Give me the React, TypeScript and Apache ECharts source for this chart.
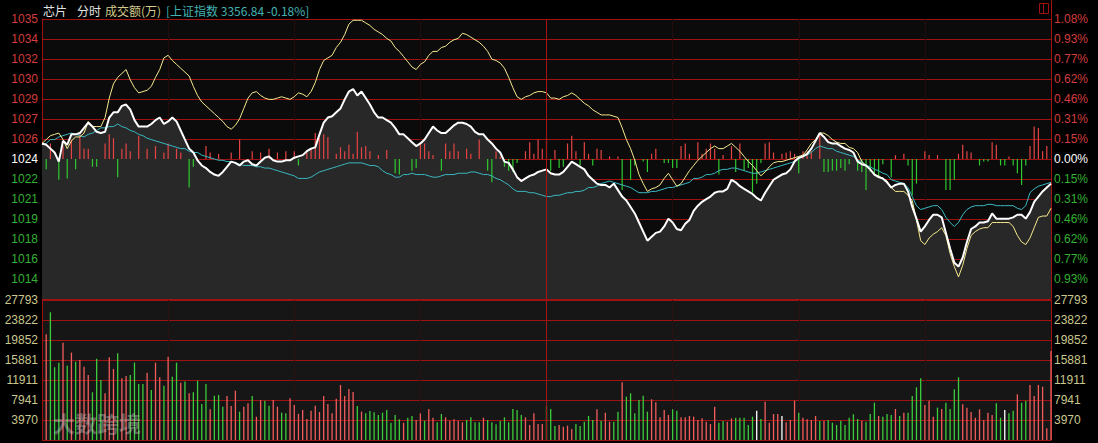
import React, { useEffect, useRef } from 'react';
import * as echarts from 'echarts';

// ---- categories: one point per trading minute ----
const times: string[] = [];
for (let m = 570; m <= 690; m++) times.push(`${String(Math.floor(m / 60)).padStart(2, '0')}:${String(m % 60).padStart(2, '0')}`);
for (let m = 781; m <= 900; m++) times.push(`${String(Math.floor(m / 60)).padStart(2, '0')}:${String(m % 60).padStart(2, '0')}`);

// ---- tick labels (bottom -> top) ----
const priceLeft = ['', '1014', '1016', '1018', '1019', '1021', '1022', '1024', '1026', '1027', '1029', '1030', '1032', '1034', '1035'];
const priceRight = ['', '0.93%', '0.77%', '0.62%', '0.46%', '0.31%', '0.15%', '0.00%', '0.15%', '0.31%', '0.46%', '0.62%', '0.77%', '0.93%', '1.08%'];
const volLabels = ['', '3970', '7941', '11911', '15881', '19852', '23822', '27793'];

// ---- series values (% change vs previous close) ----
const whiteLine = [
  0.12, 0.11, 0.08, 0.05, -0.02, 0.14, 0.11, 0.19, 0.19, 0.20,
  0.24, 0.28, 0.25, 0.21, 0.20, 0.21, 0.32, 0.36, 0.36, 0.41,
  0.42, 0.38, 0.30, 0.25, 0.25, 0.25, 0.27, 0.30, 0.32, 0.27,
  0.29, 0.32, 0.29, 0.22, 0.15, 0.08, 0.05, -0.01, -0.05, -0.07,
  -0.10, -0.12, -0.13, -0.10, -0.06, -0.02, -0.03, -0.05, -0.02, -0.01,
  -0.04, -0.05, -0.02, 0.01, 0.02, -0.01, -0.02, -0.02, -0.01, -0.01,
  0.01, 0.02, 0.03, 0.06, 0.08, 0.09, 0.19, 0.28, 0.32, 0.33,
  0.36, 0.39, 0.46, 0.52, 0.54, 0.49, 0.52, 0.47, 0.42, 0.36,
  0.32, 0.32, 0.30, 0.28, 0.24, 0.19, 0.19, 0.16, 0.13, 0.10,
  0.12, 0.15, 0.20, 0.25, 0.22, 0.20, 0.20, 0.23, 0.26, 0.28,
  0.28, 0.27, 0.25, 0.21, 0.19, 0.19, 0.15, 0.12, 0.08, 0.05,
  -0.02, -0.03, -0.08, -0.14, -0.17, -0.15, -0.13, -0.12, -0.10, -0.09,
  -0.08, -0.11, -0.12, -0.12, -0.10, -0.06, -0.02, -0.04, -0.06, -0.08,
  -0.13, -0.16, -0.19, -0.20, -0.20, -0.22, -0.19, -0.24, -0.29, -0.32,
  -0.37, -0.42, -0.49, -0.56, -0.63, -0.60, -0.57, -0.56, -0.52, -0.46,
  -0.49, -0.54, -0.55, -0.50, -0.47, -0.40, -0.36, -0.33, -0.31, -0.29,
  -0.26, -0.25, -0.25, -0.23, -0.16, -0.18, -0.21, -0.23, -0.25, -0.27,
  -0.30, -0.32, -0.26, -0.21, -0.16, -0.14, -0.12, -0.11, -0.08, -0.02,
  0.01, 0.02, 0.04, 0.08, 0.14, 0.20, 0.17, 0.13, 0.12, 0.12,
  0.10, 0.08, 0.07, 0.05, -0.02, -0.04, -0.05, -0.08, -0.12, -0.14,
  -0.15, -0.18, -0.22, -0.20, -0.19, -0.19, -0.25, -0.37, -0.46, -0.56,
  -0.52, -0.47, -0.43, -0.43, -0.45, -0.57, -0.69, -0.80, -0.83, -0.76,
  -0.64, -0.54, -0.52, -0.49, -0.49, -0.48, -0.42, -0.46, -0.46, -0.46,
  -0.46, -0.45, -0.43, -0.43, -0.46, -0.41, -0.33, -0.29, -0.25, -0.22,
  -0.19,
];

const yellowLine = [
  0.12, 0.15, 0.18, 0.19, 0.20, 0.15, 0.08, 0.14, 0.17, 0.17,
  0.20, 0.29, 0.25, 0.25, 0.25, 0.32, 0.47, 0.58, 0.63, 0.66,
  0.69, 0.61, 0.55, 0.51, 0.52, 0.53, 0.56, 0.63, 0.69, 0.78,
  0.80, 0.76, 0.73, 0.70, 0.67, 0.64, 0.56, 0.49, 0.44, 0.41,
  0.38, 0.35, 0.32, 0.29, 0.25, 0.23, 0.26, 0.31, 0.39, 0.47,
  0.51, 0.52, 0.49, 0.47, 0.46, 0.46, 0.47, 0.48, 0.47, 0.46,
  0.48, 0.51, 0.50, 0.48, 0.52, 0.59, 0.69, 0.76, 0.78, 0.80,
  0.86, 0.90, 0.96, 1.04, 1.07, 1.07, 1.07, 1.05, 1.03, 1.00,
  0.98, 0.96, 0.93, 0.91, 0.86, 0.83, 0.79, 0.75, 0.71, 0.69,
  0.73, 0.75, 0.80, 0.83, 0.83, 0.86, 0.87, 0.90, 0.92, 0.93,
  0.97, 0.96, 0.94, 0.92, 0.90, 0.87, 0.83, 0.77, 0.76, 0.74,
  0.70, 0.63, 0.55, 0.48, 0.46, 0.48, 0.49, 0.51, 0.52, 0.52,
  0.51, 0.47, 0.47, 0.46, 0.48, 0.49, 0.51, 0.49, 0.46, 0.43,
  0.41, 0.38, 0.36, 0.34, 0.34, 0.34, 0.33, 0.32, 0.24, 0.15,
  0.08, -0.01, -0.12, -0.19, -0.25, -0.23, -0.22, -0.20, -0.15, -0.11,
  -0.16, -0.21, -0.19, -0.14, -0.09, -0.05, -0.01, 0.02, 0.05, 0.08,
  0.10, 0.08, 0.08, 0.10, 0.12, 0.09, 0.06, 0.02, -0.02, -0.05,
  -0.09, -0.13, -0.10, -0.06, -0.03, -0.02, -0.02, -0.01, 0.00, 0.01,
  0.02, 0.03, 0.07, 0.12, 0.15, 0.20, 0.20, 0.18, 0.15, 0.13,
  0.12, 0.12, 0.09, 0.08, 0.05, -0.02, -0.05, -0.08, -0.12, -0.13,
  -0.15, -0.17, -0.22, -0.25, -0.25, -0.25, -0.28, -0.32, -0.47, -0.63,
  -0.66, -0.61, -0.58, -0.56, -0.53, -0.59, -0.73, -0.83, -0.91, -0.82,
  -0.69, -0.59, -0.56, -0.54, -0.53, -0.53, -0.49, -0.49, -0.49, -0.49,
  -0.49, -0.52, -0.59, -0.64, -0.66, -0.61, -0.53, -0.45, -0.44, -0.44,
  -0.38,
];

const cyanLine = [
  0.11, 0.12, 0.15, 0.15, 0.17, 0.18, 0.19, 0.20, 0.19, 0.18,
  0.17, 0.19, 0.20, 0.22, 0.24, 0.24, 0.25, 0.25, 0.27, 0.25,
  0.24, 0.22, 0.21, 0.19, 0.18, 0.16, 0.15, 0.14, 0.13, 0.12,
  0.11, 0.10, 0.09, 0.08, 0.08, 0.06, 0.05, 0.05, 0.03, 0.02,
  0.01, 0.00, -0.01, -0.01, -0.02, -0.02, -0.03, -0.04, -0.05, -0.05,
  -0.05, -0.06, -0.06, -0.07, -0.07, -0.08, -0.09, -0.10, -0.11, -0.12,
  -0.13, -0.15, -0.15, -0.15, -0.14, -0.12, -0.10, -0.09, -0.08, -0.07,
  -0.06, -0.05, -0.04, -0.03, -0.03, -0.03, -0.03, -0.04, -0.05, -0.05,
  -0.06, -0.09, -0.11, -0.12, -0.14, -0.14, -0.12, -0.12, -0.11, -0.12,
  -0.12, -0.12, -0.13, -0.14, -0.14, -0.13, -0.12, -0.12, -0.12, -0.11,
  -0.11, -0.11, -0.10, -0.10, -0.11, -0.12, -0.12, -0.13, -0.15, -0.16,
  -0.18, -0.20, -0.23, -0.25, -0.25, -0.25, -0.26, -0.26, -0.27, -0.28,
  -0.29, -0.29, -0.28, -0.28, -0.27, -0.26, -0.26, -0.25, -0.25, -0.24,
  -0.22, -0.22, -0.21, -0.19, -0.18, -0.17, -0.18, -0.19, -0.20, -0.21,
  -0.22, -0.24, -0.26, -0.26, -0.26, -0.25, -0.25, -0.24, -0.23, -0.22,
  -0.22, -0.21, -0.20, -0.19, -0.18, -0.15, -0.15, -0.14, -0.12, -0.12,
  -0.11, -0.09, -0.08, -0.08, -0.07, -0.07, -0.08, -0.09, -0.10, -0.11,
  -0.11, -0.10, -0.09, -0.08, -0.07, -0.06, -0.05, -0.04, -0.03, -0.02,
  0.00, 0.02, 0.03, 0.05, 0.08, 0.10, 0.09, 0.08, 0.08, 0.06,
  0.05, 0.04, 0.03, 0.02, -0.01, -0.02, -0.05, -0.06, -0.08, -0.09,
  -0.11, -0.12, -0.16, -0.17, -0.18, -0.19, -0.22, -0.29, -0.36, -0.39,
  -0.38, -0.37, -0.36, -0.36, -0.39, -0.45, -0.49, -0.52, -0.49, -0.43,
  -0.39, -0.37, -0.36, -0.36, -0.36, -0.35, -0.35, -0.36, -0.36, -0.36,
  -0.36, -0.36, -0.38, -0.39, -0.36, -0.26, -0.23, -0.21, -0.20, -0.19,
  -0.18,
];

// buy/sell strength bars around the zero line (same % units)
const strength = [
  0, -0.08, 0.12, 0, -0.16, 0.10, -0.15, 0.15, -0.08, 0.20,
  0.08, 0.08, -0.06, -0.06, 0, 0.12, 0.19, 0.16, -0.14, 0.08,
  0.12, 0.06, 0, 0.18, 0, 0.08, 0, 0.10, 0, 0.05,
  0.12, 0, 0.08, 0.05, 0, -0.22, -0.06, 0, 0, 0.10,
  0.05, 0, 0.04, 0, 0, 0.05, 0, 0.15, 0, 0,
  0.06, 0, 0.05, 0, 0.08, 0, 0.05, 0, 0.06, 0,
  0.06, -0.05, 0, 0.05, 0.08, 0.20, 0.16, 0.19, 0.17, 0,
  0.04, 0.09, 0.06, 0.11, 0.04, 0.21, 0.09, 0.10, 0.06, 0,
  0.03, 0, 0.07, 0, -0.11, -0.12, 0, 0, -0.09, -0.07,
  0.12, 0.12, 0.06, 0.03, 0, -0.09, 0.12, 0.06, 0.12, 0.06,
  0, 0.08, 0.04, 0, 0.15, 0, -0.09, -0.18, 0.06, 0.02,
  -0.06, -0.09, -0.10, -0.03, 0, 0.06, 0.13, 0.04, 0.15, 0.08,
  0.16, -0.09, 0.07, -0.07, -0.06, 0.12, 0.18, 0.06, -0.05, 0.13,
  0.04, -0.05, 0.08, 0.07, 0, 0.02, 0, 0.02, -0.24, 0,
  -0.16, -0.05, 0, -0.02, -0.10, 0.04, 0.08, 0, -0.03, -0.03,
  -0.07, -0.07, 0.10, 0.12, 0.04, 0, 0.13, 0.04, 0.08, 0.12,
  0.08, -0.12, 0.03, 0, 0.10, -0.10, 0.12, -0.09, -0.07, -0.26,
  -0.19, -0.03, 0.12, 0.13, 0.05, 0, 0.04, 0.05, 0.06, 0.04,
  -0.11, 0.06, 0.06, 0.06, 0, 0.20, -0.10, -0.10, -0.09, -0.09,
  -0.07, -0.09, -0.04, 0, -0.09, -0.10, -0.24, -0.10, -0.12, -0.14,
  -0.04, 0, -0.14, 0.03, 0, 0.04, -0.05, -0.28, -0.19, 0,
  0.06, 0.03, 0, 0.03, 0, -0.24, -0.24, -0.16, 0.04, 0.11,
  0.06, 0.05, 0, -0.05, -0.02, -0.02, 0.13, 0.11, -0.05, -0.05,
  0.02, -0.05, -0.11, -0.20, -0.05, 0.10, 0.25, 0.24, 0.06, 0.10,
  0,
];

// turnover (万) per minute
const volume = [
  0, 20985, 25355, 14430, 15360, 19330, 14760, 17345, 15560, 15890,
  14560, 12910, 9470, 16150, 11920, 9270, 16420, 14100, 17210, 12250,
  12710, 12910, 15360, 11120, 11120, 13370, 9930, 15360, 12450, 10790,
  16550, 12580, 15360, 11390, 11590, 9270, 9470, 11780, 7150, 11120,
  6090, 8800, 8940, 6620, 8740, 6750, 9800, 5630, 6620, 7280,
  8740, 4630, 7940, 7810, 6820, 7940, 6620, 5430, 5300, 8280,
  6950, 5200, 5960, 4170, 5830, 6820, 5560, 8740, 7150, 5300,
  8210, 10920, 8740, 10130, 9530, 6750, 5630, 5300, 5760, 5490,
  4965, 5430, 5960, 3440, 4965, 4100, 3440, 4435, 4770, 3970,
  5300, 3840, 6160, 4435, 3510, 5160, 4500, 3840, 4100, 3840,
  3510, 3970, 4500, 3510, 3510, 4435, 3970, 3510, 3110, 3770,
  4500, 3510, 6160, 5960, 4965, 4500, 2980, 5300, 3180, 3180,
  6750, 6160, 2780, 2980, 2650, 2850, 2180, 3180, 2780, 3640,
  4770, 3970, 6090, 3840, 5430, 3640, 3640, 5630, 11450, 8610,
  9270, 5300, 7940, 8800, 5630, 8080, 7480, 4500, 5960, 4965,
  6090, 5830, 4500, 4500, 4770, 4630, 3970, 4300, 3640, 3180,
  6620, 3440, 3770, 3640, 4300, 4435, 4435, 4435, 2980, 4630,
  5830, 4170, 7610, 3440, 5160, 5160, 4770, 3510, 3970, 7810,
  5430, 4435, 4100, 3970, 4770, 3770, 3840, 3970, 3440, 2980,
  3840, 2980, 4435, 5100, 4170, 3840, 3640, 5160, 7410, 4770,
  4630, 5160, 4965, 6160, 4770, 5430, 5430, 8740, 10460, 12250,
  6950, 7810, 4630, 6420, 6160, 7410, 6160, 10060, 12450, 7080,
  6420, 5560, 4435, 6090, 3970, 5430, 4965, 7280, 4435, 5960,
  5300, 5830, 9070, 7410, 7810, 10920, 8740, 10920, 10590, 2320,
  17680,
];

// R = up minute, G = down minute, W = flat
const volumeSide = [
  '-RGGGRGRGR', 'RRGGGRRRGR', 'RGGGGRGRRG', 'RGGRGRGGGG', 'RGGGRRRGRR',
  'GRRGGRRGGR', 'RRRRRRRRRR', 'RRRRRGRGGG', 'GGGGGGRGGR', 'RGRRGGRRRR',
  'RGGGGRGGGG', 'GGGGGRRRRR', 'GGGRRRRGGG', 'GGRGRRGGRG', 'GGGGGRRRRR',
  'GGRRRRRRRR', 'RGGRRGGGGG', 'WGRRRRWRRR', 'GRRRRGRGGG', 'GGGGGRGGGR',
  'GGGRGRGGGG', 'RRRGRGGGGR', 'RRRRRRRGGW', 'GGRGGRRRRR', 'R',
].join('');

const GRID_LINE = '#a01212';
const LBL_RED = '#d23c3c';
const LBL_GREEN = '#34b034';
const LBL_VOL = '#c9c78e';
const FONT = '"Liberation Sans", Arial, sans-serif';
const CJK = '"Noto Sans CJK SC", sans-serif';

function priceLabelItems(labels: string[]) {
  return labels.map((v, i) => ({
    value: v,
    textStyle: { color: i === 7 ? '#ffffff' : i > 7 ? LBL_RED : LBL_GREEN },
  }));
}

function catYAxis(gridIndex: number, position: string, data: any[], showSplit: boolean, margin: number) {
  return {
    type: 'category',
    gridIndex,
    position,
    data,
    boundaryGap: false,
    axisLine: { show: true, lineStyle: { color: GRID_LINE, width: 1 } },
    axisTick: { show: false },
    axisLabel: { interval: 0, margin, fontSize: 12, fontFamily: FONT, color: LBL_VOL },
    splitLine: { show: showSplit, interval: 0, lineStyle: { color: GRID_LINE, width: 1 } },
  };
}

function xAxisFor(gridIndex: number) {
  return {
    type: 'category',
    gridIndex,
    data: times,
    boundaryGap: false,
    axisLine: { show: false },
    axisTick: { show: false },
    axisLabel: { show: false },
    splitLine: {
      show: true,
      interval: (i: number) => i > 0 && i < 240 && i % 30 === 0 && i !== 120,
      lineStyle: { color: '#3e0c0c', type: 'dotted', width: 1 },
    },
  };
}

const middleLine = {
  symbol: ['none', 'none'],
  silent: true,
  label: { show: false },
  lineStyle: { color: '#a81414', type: 'solid', width: 1 },
  emphasis: { disabled: true },
  data: [{ xAxis: times[120] }],
};

export default function App() {
  const ref = useRef<HTMLDivElement>(null);

  useEffect(() => {
    if (!ref.current) return;
    const chart = echarts.init(ref.current, undefined, { renderer: 'svg' });
    const option: any = {
      animation: false,
      backgroundColor: '#000000',
      textStyle: { fontFamily: FONT },
      grid: [
        { left: 42, right: 47, top: 19, height: 280, show: true, backgroundColor: '#0b0b0b', borderWidth: 0 },
        { left: 42, right: 47, top: 300, height: 140, show: true, backgroundColor: '#161616', borderWidth: 0 },
      ],
      xAxis: [xAxisFor(0), xAxisFor(1)],
      yAxis: [
        { type: 'value', gridIndex: 0, min: -1.08, max: 1.08, show: false },
        catYAxis(0, 'left', priceLabelItems(priceLeft), true, 4),
        catYAxis(0, 'right', priceLabelItems(priceRight), false, 3),
        { type: 'value', gridIndex: 1, min: 0, max: 27793, show: false },
        catYAxis(1, 'left', volLabels, true, 4),
        catYAxis(1, 'right', volLabels, false, 3),
      ],
      series: [
        {
          type: 'line', xAxisIndex: 0, yAxisIndex: 0, data: whiteLine, symbol: 'none', silent: true,
          lineStyle: { width: 0, opacity: 0 },
          areaStyle: { color: '#282828', opacity: 1, origin: 'start' },
          z: 1,
        },
        {
          type: 'bar', xAxisIndex: 0, yAxisIndex: 0, barWidth: 1.2, silent: true, z: 2,
          data: strength.map((v) => ({ value: v, itemStyle: { color: v >= 0 ? '#e64444' : '#2fc82f' } })),
        },
        {
          type: 'line', xAxisIndex: 0, yAxisIndex: 0, data: cyanLine, symbol: 'none', silent: true, z: 3,
          lineStyle: { color: '#3ab8c2', width: 1 },
        },
        {
          type: 'line', xAxisIndex: 0, yAxisIndex: 0, data: yellowLine, symbol: 'none', silent: true, z: 3,
          lineStyle: { color: '#f6ea8e', width: 1 },
        },
        {
          type: 'line', xAxisIndex: 0, yAxisIndex: 0, data: whiteLine, symbol: 'none', silent: true, z: 4,
          lineStyle: { color: '#ffffff', width: 2 },
          markLine: middleLine,
        },
        {
          type: 'bar', xAxisIndex: 1, yAxisIndex: 3, barWidth: 1.3, silent: true, z: 2,
          data: volume.map((v, i) => ({
            value: v,
            itemStyle: { color: volumeSide[i] === 'G' ? '#3ccc3c' : volumeSide[i] === 'W' ? '#ffffff' : '#f45c5c' },
          })),
          markLine: middleLine,
        },
      ],
      graphic: [
        { type: 'text', x: 43, y: 10, style: { text: '芯片', fill: '#e2e2e2', font: `12px ${CJK}`, verticalAlign: 'middle' } },
        { type: 'text', x: 77, y: 10, style: { text: '分时', fill: '#e2e2e2', font: `12px ${CJK}`, verticalAlign: 'middle' } },
        { type: 'text', x: 105, y: 10, style: { text: '成交额(万)', fill: '#d2cb8c', font: `12px ${CJK}`, verticalAlign: 'middle' } },
        { type: 'text', x: 166, y: 10, style: { text: '[上证指数 3356.84 -0.18%]', fill: '#45b2b2', font: `12px ${CJK}`, verticalAlign: 'middle' } },
        { type: 'rect', shape: { x: 1039.5, y: 3.5, width: 9, height: 10 }, style: { fill: 'none', stroke: GRID_LINE, lineWidth: 1 } },
        { type: 'line', shape: { x1: 1043.5, y1: 3.5, x2: 1043.5, y2: 13.5 }, style: { stroke: GRID_LINE, lineWidth: 1 } },
        { type: 'line', shape: { x1: 1051.5, y1: 0, x2: 1051.5, y2: 19 }, style: { stroke: GRID_LINE, lineWidth: 1 } },
        { type: 'text', x: 53, y: 422, z: 100, style: { text: '大数跨境', fill: 'rgba(210,210,210,0.38)', font: `bold 22px ${CJK}`, verticalAlign: 'middle' } },
      ],
    };
    chart.setOption(option);
    return () => chart.dispose();
  }, []);

  return <div ref={ref} style={{ position: 'absolute', left: 0, top: 0, width: 1098, height: 443 }} />;
}
